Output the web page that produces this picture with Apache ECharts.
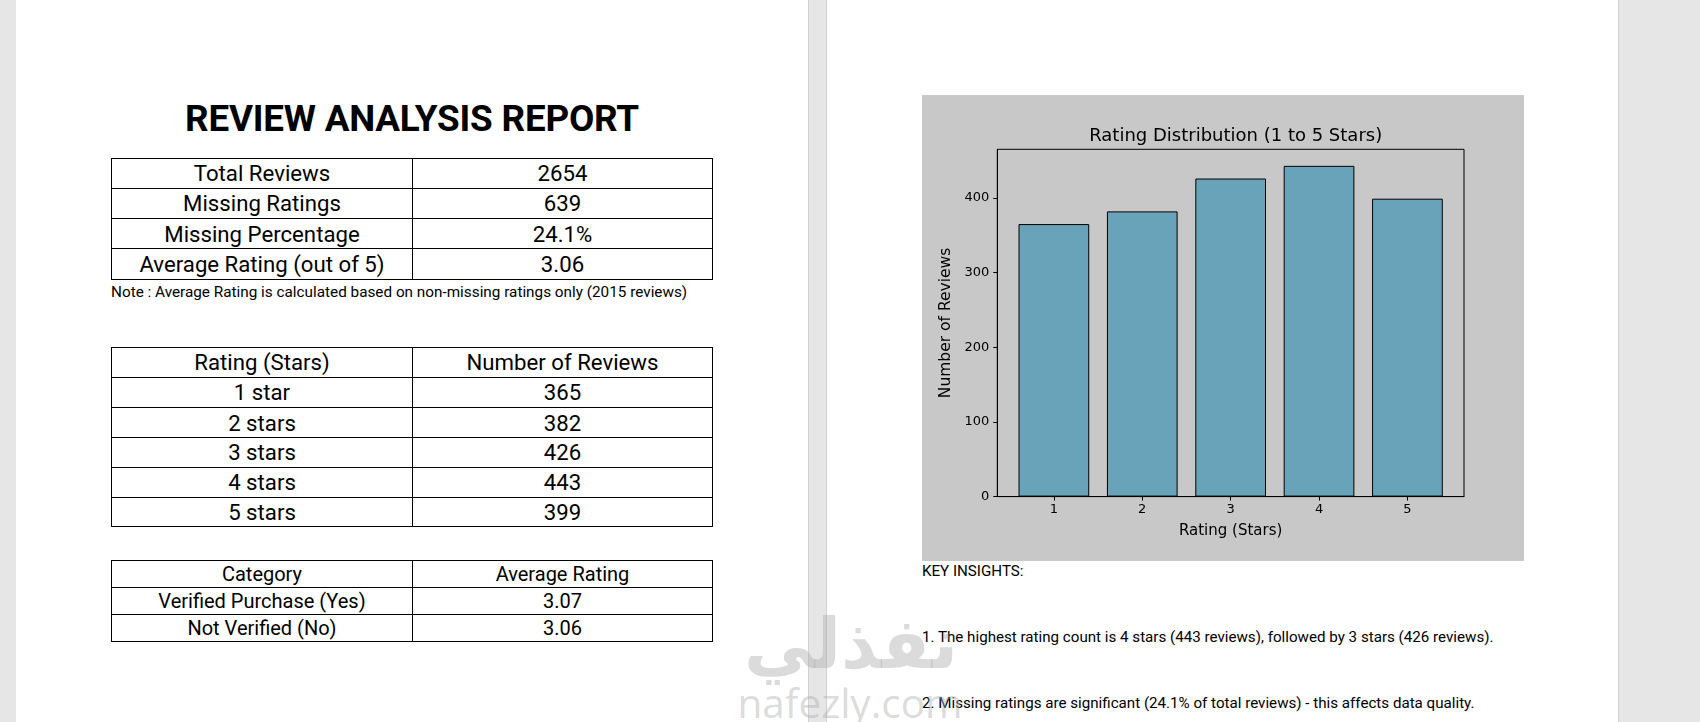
<!DOCTYPE html>
<html>
<head>
<meta charset="utf-8">
<script src="https://cdn.jsdelivr.net/npm/echarts@6/dist/echarts.min.js"></script>
<style>
  html, body { margin:0; padding:0; width:1700px; height:722px; overflow:hidden; background:#e6e6e6; font-family: Roboto, "Noto Sans", sans-serif; color:#000; }
  .page { position:absolute; top:0; height:722px; background:#fff; }
  .abs { position:absolute; }
  .line { position:absolute; background:#000; }
  .cell { position:absolute; display:flex; align-items:center; justify-content:center; white-space:nowrap; }
  .wm { position:absolute; white-space:nowrap; pointer-events:none; color:rgba(175,175,175,0.45); transform-origin:0 0; }
  #chart { position:absolute; left:922px; top:95px; width:602px; height:466px; }
</style>
</head>
<body>
<div class="page" style="left:16px;width:792px;"></div>
<div class="abs" style="left:808px;top:0;width:1px;height:722px;background:#d2d2d2;"></div>
<div class="abs" style="left:826px;top:0;width:1px;height:722px;background:#d2d2d2;"></div>
<div class="page" style="left:827px;width:791px;"></div>
<div class="abs" style="left:1618px;top:0;width:1px;height:722px;background:#cfcfcf;"></div>

<div id="reportTitle" class="cell" style="left:16px;width:792px;top:97px;height:42px;font-weight:700;font-size:36.8px;letter-spacing:-0.2px;">REVIEW ANALYSIS REPORT</div>
<div id="tables"></div>
<div id="note" class="abs" style="left:111px;top:283px;font-size:15.3px;white-space:nowrap;"></div>

<div id="chart"></div>
<div id="insights"></div>

<div class="wm" style="left:851px;top:603px;font-family:'DejaVu Sans';font-weight:bold;font-size:70px;line-height:normal;transform:translateX(-50%);">نفذلي</div>
<div class="wm" style="left:850px;top:682px;height:41px;line-height:41px;font-family:'Open Sans';font-size:40.5px;transform:translateX(-50%);">nafezly.com</div>

<script>
// ---- data ----
const summaryLabels = ['Total Reviews', 'Missing Ratings', 'Missing Percentage', 'Average Rating (out of 5)'];
const summaryValues = ['2654', '639', '24.1%', '3.06'];
const noteText = 'Note : Average Rating is calculated based on non-missing ratings only (2015 reviews)';

const ratingHeader = ['Rating (Stars)', 'Number of Reviews'];
const ratingLabels = ['1 star', '2 stars', '3 stars', '4 stars', '5 stars'];
const ratingStars = [1, 2, 3, 4, 5];
const ratingCounts = [365, 382, 426, 443, 399];

const verifiedHeader = ['Category', 'Average Rating'];
const verifiedCategories = ['Verified Purchase (Yes)', 'Not Verified (No)'];
const verifiedAverages = ['3.07', '3.06'];

const yTickValues = [0, 100, 200, 300, 400];
const xTickValues = [1, 2, 3, 4, 5];

const insightsTitle = 'KEY INSIGHTS:';
const insightLines = [
  '1. The highest rating count is 4 stars (443 reviews), followed by 3 stars (426 reviews).',
  '2. Missing ratings are significant (24.1% of total reviews) - this affects data quality.'
];

// ---- tables ----
function makeTable(left, right, divider, rowYs, rows, fontSize) {
  const host = document.getElementById('tables');
  const add = (cls, style, text) => {
    const d = document.createElement('div');
    d.className = cls;
    Object.assign(d.style, style);
    if (text !== undefined) d.textContent = text;
    host.appendChild(d);
  };
  const top = rowYs[0], bottom = rowYs[rowYs.length - 1];
  rowYs.forEach(y => add('line', {left: left + 'px', top: (y - 0.5) + 'px', width: (right - left + 1) + 'px', height: '1px'}));
  [left, divider, right].forEach(x => add('line', {left: (x - 0.5) + 'px', top: (top - 0.5) + 'px', width: '1px', height: (bottom - top + 1) + 'px'}));
  rows.forEach((r, i) => {
    const y0 = rowYs[i], y1 = rowYs[i + 1];
    add('cell', {left: left + 'px', width: (divider - left) + 'px', top: y0 + 'px', height: (y1 - y0) + 'px', fontSize: fontSize + 'px'}, r[0]);
    add('cell', {left: divider + 'px', width: (right - divider) + 'px', top: y0 + 'px', height: (y1 - y0) + 'px', fontSize: fontSize + 'px'}, r[1]);
  });
}
makeTable(111.3, 712.3, 412.7, [158.3, 188.3, 218.7, 248.7, 279.7],
  summaryLabels.map((l, i) => [l, summaryValues[i]]), 22.2);
makeTable(111.3, 712.3, 412.7, [347.3, 377.3, 407.7, 437.7, 467.3, 497.3, 526.3],
  [ratingHeader].concat(ratingLabels.map((l, i) => [l, String(ratingCounts[i])])), 22.2);
makeTable(111.3, 712.3, 412.7, [560.5, 587.5, 614.5, 641],
  [verifiedHeader].concat(verifiedCategories.map((c, i) => [c, verifiedAverages[i]])), 20);
document.getElementById('note').textContent = noteText;

// ---- insights ----
(function () {
  const host = document.getElementById('insights');
  const tops = [562, 628, 694];
  [insightsTitle].concat(insightLines).forEach((t, i) => {
    const d = document.createElement('div');
    d.className = 'abs';
    d.style.left = '922px';
    d.style.top = tops[i] + 'px';
    d.style.fontSize = '15.15px';
    d.style.whiteSpace = 'nowrap';
    d.textContent = t;
    host.appendChild(d);
  });
})();

// ---- chart ----
const chart = echarts.init(document.getElementById('chart'), null, {renderer: 'canvas'});
const font = 'DejaVu Sans';
chart.setOption({
  backgroundColor: '#c8c8c8',
  animation: false,
  title: {
    text: 'Rating Distribution (1 to 5 Stars)',
    left: 308.7, textAlign: 'center', top: 27,
    textStyle: {fontFamily: font, fontSize: 18, fontWeight: 'normal', color: '#000'}
  },
  grid: {left: 75.3, top: 54.3, right: 60, bottom: 64.4, show: true, borderColor: '#000', borderWidth: 1, backgroundColor: 'transparent', containLabel: false},
  xAxis: {
    type: 'value', min: 0.36, max: 5.64,
    name: 'Rating (Stars)', nameLocation: 'middle', nameGap: 27,
    nameTextStyle: {fontFamily: font, fontSize: 15, color: '#000'},
    axisLine: {show: true, lineStyle: {color: '#000', width: 1}},
    axisTick: {show: true, length: 4, lineStyle: {color: '#000'}, customValues: xTickValues},
    axisLabel: {fontFamily: font, fontSize: 13, color: '#000', margin: 7, customValues: xTickValues},
    splitLine: {show: false}
  },
  yAxis: {
    type: 'value', min: 0, max: 465.15,
    name: 'Number of Reviews', nameLocation: 'middle', nameGap: 40,
    nameTextStyle: {fontFamily: font, fontSize: 15.5, color: '#000'},
    axisLine: {show: true, lineStyle: {color: '#000', width: 1}},
    axisTick: {show: true, length: 4, lineStyle: {color: '#000'}, customValues: yTickValues},
    axisLabel: {fontFamily: font, fontSize: 13, color: '#000', margin: 8, customValues: yTickValues},
    splitLine: {show: false}
  },
  series: [{
    type: 'bar',
    data: ratingStars.map((s, i) => [s, ratingCounts[i]]),
    barWidth: 70.7,
    itemStyle: {color: '#69a3ba', borderColor: '#000', borderWidth: 1}
  }]
});
</script>
</body>
</html>
